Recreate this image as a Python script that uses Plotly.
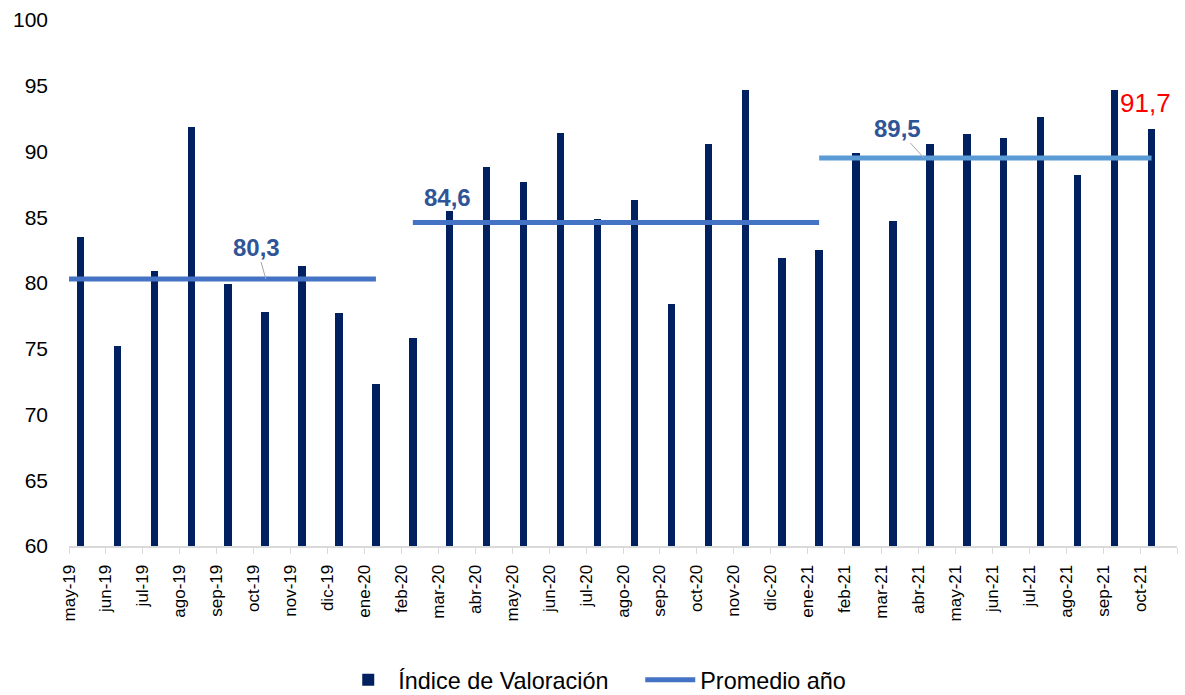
import plotly.graph_objects as go

months = ["may-19", "jun-19", "jul-19", "ago-19", "sep-19", "oct-19", "nov-19", "dic-19",
          "ene-20", "feb-20", "mar-20", "abr-20", "may-20", "jun-20", "jul-20", "ago-20",
          "sep-20", "oct-20", "nov-20", "dic-20", "ene-21", "feb-21", "mar-21", "abr-21",
          "may-21", "jun-21", "jul-21", "ago-21", "sep-21", "oct-21"]
indice = [83.5, 75.2, 80.9, 91.9, 79.9, 77.8, 81.3, 77.7,
          72.3, 75.8, 85.5, 88.8, 87.7, 91.4, 84.9, 86.3,
          78.4, 90.6, 94.7, 81.9, 82.5, 89.9, 84.7, 90.6,
          91.3, 91.0, 92.6, 88.2, 94.7, 91.7]
# yearly averages and the months they span
prom_values = [80.3, 84.6, 89.5]
prom_start = ["may-19", "feb-20", "ene-21"]
prom_end = ["ene-20", "ene-21", "oct-21"]

FONT = "Arial, 'Liberation Sans', sans-serif"
BAR_OFF = 0.31
BAR_W = 0.2
NAVY = "#002060"
LINE_COLORS = ["#4472C4", "#4472C4", "#5B9BD5"]
LABEL_BLUE = "#2F5597"

n = len(months)
idx = {m: i for i, m in enumerate(months)}

fig = go.Figure()
fig.add_trace(go.Bar(
    x=[i + BAR_OFF for i in range(n)], y=[v - 60 for v in indice], base=60,
    width=BAR_W, marker=dict(color=NAVY, line=dict(width=0)),
    name="Índice de Valoración", hoverinfo="skip"))

for k, v in enumerate(prom_values):
    x0 = idx[prom_start[k]] + BAR_OFF
    if idx[prom_start[k]] == 0:
        x0 = 0
    x1 = idx[prom_end[k]] + BAR_OFF
    fig.add_trace(go.Scatter(
        x=[x0, x1], y=[v, v], mode="lines",
        line=dict(color=LINE_COLORS[k], width=5),
        name="Promedio año", legendgroup="prom", showlegend=(k == 0)))

def fmt(v):
    return f"{v:.1f}".replace(".", ",")

anns = []
anns.append(dict(x=5.33, y=prom_values[0], text="<b>" + fmt(prom_values[0]) + "</b>",
                 showarrow=True, arrowhead=0, arrowwidth=1, arrowcolor="#A6A6A6",
                 ax=-9, ay=-32, font=dict(size=24, color=LABEL_BLUE, family=FONT)))
anns.append(dict(x=10.24, y=prom_values[1], text="<b>" + fmt(prom_values[1]) + "</b>",
                 showarrow=False, yshift=25, font=dict(size=24, color=LABEL_BLUE, family=FONT)))
anns.append(dict(x=23.15, y=prom_values[2], text="<b>" + fmt(prom_values[2]) + "</b>",
                 showarrow=True, arrowhead=0, arrowwidth=1, arrowcolor="#A6A6A6",
                 ax=-27, ay=-30, font=dict(size=24, color=LABEL_BLUE, family=FONT)))
anns.append(dict(x=n - 1 + BAR_OFF, y=indice[-1], text=fmt(indice[-1]),
                 showarrow=False, yshift=26, xshift=-6,
                 font=dict(size=26, color="#FF0000", family=FONT)))

fig.update_layout(
    width=1185, height=695,
    margin=dict(l=69, r=8, t=20, b=149, autoexpand=False),
    paper_bgcolor="white", plot_bgcolor="white",
    font=dict(family=FONT, color="#000000"),
    showlegend=True,
    legend=dict(orientation="h", x=0.243, xanchor="left", y=-0.2548, yanchor="middle",
                font=dict(size=23.4, color="#000000", family=FONT),
                itemwidth=50, entrywidth=237, tracegroupgap=0, bgcolor="rgba(0,0,0,0)"),
    annotations=anns,
    bargap=0,
)
fig.update_xaxes(
    type="linear", range=[0, n], automargin=False,
    tickmode="array", tickvals=list(range(n + 1)), ticktext=months + [""],
    tickangle=-90, ticks="outside", ticklen=6, tickcolor="#D9D9D9", tickwidth=1,
    showline=True, linecolor="#D9D9D9", linewidth=2, showgrid=False, zeroline=False,
    tickfont=dict(size=17, color="#000000", family=FONT), ticklabelstandoff=4,
)
fig.update_yaxes(
    range=[60, 100], tickvals=[60, 65, 70, 75, 80, 85, 90, 95, 100], automargin=False,
    showgrid=False, zeroline=False, showline=False, ticks="",
    tickfont=dict(size=21, color="#000000", family=FONT), ticklabelstandoff=20,
)

# remove the browser's default 8px body margin so the figure fills the window exactly
fig.write_html("out.html", config={"displayModeBar": False},
               post_script="document.body.style.margin='0';document.body.style.overflow='hidden';")
